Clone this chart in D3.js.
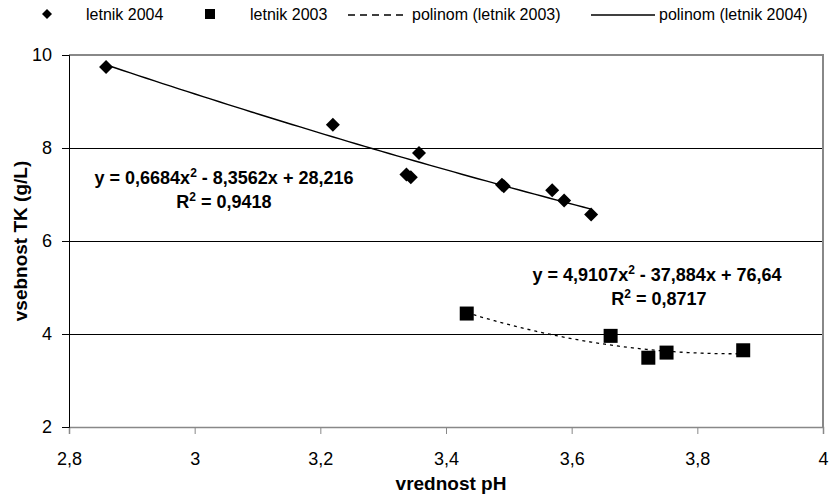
<!DOCTYPE html>
<html>
<head>
<meta charset="utf-8">
<script src="https://cdn.jsdelivr.net/npm/d3@7"></script>
<style>
body{margin:0;background:#fff;}
svg{display:block;}
</style>
</head>
<body>
<div id="chart"></div>
<script>
// letnik 2004 (diamonds)
const ph2004 = [2.859, 3.220, 3.337, 3.344, 3.357, 3.489, 3.492, 3.569, 3.588, 3.631];
const tk2004 = [9.74, 8.50, 7.43, 7.37, 7.89, 7.21, 7.18, 7.09, 6.87, 6.57];
// letnik 2003 (squares)
const ph2003 = [3.433, 3.662, 3.722, 3.751, 3.873];
const tk2003 = [4.44, 3.96, 3.49, 3.60, 3.65];
// trend coefficients [a, b, c] of y = a*x^2 + b*x + c
const poly2004 = [0.6684, -8.3562, 28.216];
const poly2003 = [4.9107, -37.884, 76.64];
const xTicks = [2.8, 3, 3.2, 3.4, 3.6, 3.8, 4];
const yTicks = [2, 4, 6, 8, 10];
const legendLabels = ["letnik 2004", "letnik 2003", "polinom (letnik 2003)", "polinom (letnik 2004)"];

const W = 833, H = 495;
const margin = {top: 55, right: 10, bottom: 68, left: 69};
const fmt = d => String(d).replace(".", ",");

const svg = d3.select("#chart").append("svg")
  .attr("width", W).attr("height", H)
  .style("font-family", "'Liberation Sans', Arial, sans-serif");

const x = d3.scaleLinear().domain([2.8, 4]).range([margin.left, W - margin.right]);
const y = d3.scaleLinear().domain([2, 10]).range([H - margin.bottom, margin.top]);

// gridlines
svg.append("g").selectAll("line")
  .data([4, 6, 8])
  .join("line")
  .attr("x1", x(2.8)).attr("x2", x(4))
  .attr("y1", d => y(d)).attr("y2", d => y(d))
  .attr("stroke", "#000").attr("shape-rendering", "crispEdges");

// plot border (gray)
svg.append("path")
  .attr("d", `M${x(2.8)},${y(10)}H${x(4)}V${y(2)}`)
  .attr("fill", "none").attr("stroke", "#888").attr("stroke-width", 1.5)
  .attr("shape-rendering", "crispEdges");

// x axis
const xAxis = svg.append("g")
  .attr("transform", `translate(0,${y(2)})`)
  .call(d3.axisBottom(x).tickValues(xTicks).tickFormat(fmt).tickSize(7).tickPadding(18));
xAxis.select(".domain").attr("stroke", "#888").attr("stroke-width", 1.5);
xAxis.selectAll(".tick line").attr("stroke", "#888");
xAxis.selectAll("text").attr("font-size", 18).attr("font-family", null).attr("fill", "#000");

// y axis
const yAxis = svg.append("g")
  .attr("transform", `translate(${x(2.8)},0)`)
  .call(d3.axisLeft(y).tickValues(yTicks).tickSize(7).tickPadding(10));
yAxis.select(".domain").attr("stroke", "#000");
yAxis.selectAll(".tick line").attr("stroke", "#000");
yAxis.selectAll("text").attr("font-size", 18).attr("font-family", null).attr("fill", "#000");

// axis titles
svg.append("text")
  .attr("x", 451).attr("y", 490)
  .attr("text-anchor", "middle").attr("font-weight", "bold").attr("font-size", 19)
  .text("vrednost pH");
svg.append("text")
  .attr("transform", `translate(27,${(y(2) + y(10)) / 2}) rotate(-90)`)
  .attr("text-anchor", "middle").attr("font-weight", "bold").attr("font-size", 19)
  .text("vsebnost TK (g/L)");

// trendlines
const polyVal = (p, v) => p[0] * v * v + p[1] * v + p[2];
const trend = (p, xs) => {
  const lo = d3.min(xs), hi = d3.max(xs);
  return d3.range(0, 61).map(i => {
    const v = lo + (hi - lo) * i / 60;
    return [v, polyVal(p, v)];
  });
};
const line = d3.line().x(d => x(d[0])).y(d => y(d[1]));

svg.append("path")
  .datum(trend(poly2004, ph2004))
  .attr("d", line)
  .attr("fill", "none").attr("stroke", "#000").attr("stroke-width", 1.4);

svg.append("path")
  .datum(trend(poly2003, ph2003))
  .attr("d", line)
  .attr("fill", "none").attr("stroke", "#000").attr("stroke-width", 1.3)
  .attr("stroke-dasharray", "3,4");

// markers
svg.append("g").selectAll("path")
  .data(ph2004.map((v, i) => [v, tk2004[i]]))
  .join("path")
  .attr("transform", d => `translate(${x(d[0])},${y(d[1])})`)
  .attr("d", "M0,-7L7,0L0,7L-7,0Z")
  .attr("fill", "#000");

svg.append("g").selectAll("rect")
  .data(ph2003.map((v, i) => [v, tk2003[i]]))
  .join("rect")
  .attr("x", d => x(d[0]) - 7).attr("y", d => y(d[1]) - 7)
  .attr("width", 14).attr("height", 14)
  .attr("fill", "#000");

// equations
const eq = svg.append("g").attr("font-weight", "bold").attr("font-size", 18).attr("text-anchor", "middle");
const sup = (t, base) => {
  t.append("tspan").text(base[0]);
  t.append("tspan").attr("font-size", 12).attr("dy", -7).text("2");
  t.append("tspan").attr("dy", 7).text(base[1]);
};
sup(eq.append("text").attr("x", 224).attr("y", 184), ["y = 0,6684x", " - 8,3562x + 28,216"]);
sup(eq.append("text").attr("x", 224).attr("y", 208), ["R", " = 0,9418"]);
sup(eq.append("text").attr("x", 657).attr("y", 281), ["y = 4,9107x", " - 37,884x + 76,64"]);
sup(eq.append("text").attr("x", 659).attr("y", 305), ["R", " = 0,8717"]);

// legend
const lg = svg.append("g").attr("font-size", 16);
const ly = 14;
lg.append("path").attr("transform", `translate(47,${ly})`).attr("d", "M0,-5L5,0L0,5L-5,0Z").attr("fill", "#000");
lg.append("text").attr("x", 86).attr("y", ly + 6).text(legendLabels[0]);
lg.append("rect").attr("x", 205).attr("y", ly - 5).attr("width", 10).attr("height", 10).attr("fill", "#000");
lg.append("text").attr("x", 250).attr("y", ly + 6).text(legendLabels[1]);
lg.append("line").attr("x1", 348).attr("x2", 408).attr("y1", ly + 1).attr("y2", ly + 1)
  .attr("stroke", "#000").attr("stroke-width", 1.3).attr("stroke-dasharray", "7,5");
lg.append("text").attr("x", 412).attr("y", ly + 6).text(legendLabels[2]);
lg.append("line").attr("x1", 591).attr("x2", 655).attr("y1", ly + 1).attr("y2", ly + 1)
  .attr("stroke", "#000").attr("stroke-width", 1.3);
lg.append("text").attr("x", 659).attr("y", ly + 6).text(legendLabels[3]);
</script>
</body>
</html>
